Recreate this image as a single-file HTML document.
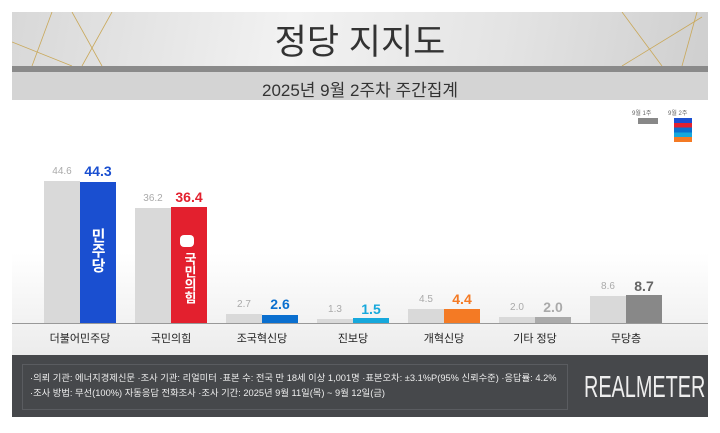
<!DOCTYPE html>
<html><head><meta charset="utf-8"><style>
body{margin:0;width:720px;height:433px;background:#fff;position:relative;overflow:hidden;font-family:"Liberation Sans","Noto Sans CJK KR",sans-serif}
.a{position:absolute}
.g{position:absolute;background:#d9d9d9;width:36px}
.c{position:absolute;width:36px}
.v{position:absolute;width:36px;text-align:center;font-size:10px;color:#aaa}
.w{position:absolute;width:40px;text-align:center;font-size:14px;font-weight:bold}
.l{position:absolute;width:100px;text-align:center;font-size:11px;color:#222;top:330px}
</style></head><body>
<div class="a" style="left:12px;top:12px;width:696px;height:54px;background:linear-gradient(100deg,#d8d8d8,#f2f2f2 40%,#e4e4e4 70%,#cfcfcf)"></div>
<svg class="a" style="left:12px;top:12px" width="696" height="54"><g stroke="#c9a85a" stroke-width="0.8" fill="none"><line x1="40" y1="0" x2="20" y2="54"/><line x1="60" y1="0" x2="90" y2="54"/><line x1="0" y1="30" x2="60" y2="54"/><line x1="100" y1="0" x2="70" y2="54"/><line x1="610" y1="0" x2="650" y2="54"/><line x1="685" y1="0" x2="670" y2="54"/><line x1="690" y1="5" x2="610" y2="54"/></g></svg>
<div class="a" style="left:0;width:720px;top:14px;text-align:center;font-size:35px;color:#333">정당 지지도</div>
<div class="a" style="left:12px;top:66px;width:696px;height:6px;background:#8a8a8a"></div>
<div class="a" style="left:12px;top:72px;width:696px;height:28px;background:#d4d4d4"></div>
<div class="a" style="left:0;width:720px;top:76px;text-align:center;font-size:17px;color:#333">2025년 9월 2주차 주간집계</div>
<div class="a" style="left:12px;top:100px;width:696px;height:255px;background:linear-gradient(#fff 60%,#ececec)"></div>
<div class="a" style="left:632px;top:108px;font-size:6px;color:#666">9월 1주</div>
<div class="a" style="left:668px;top:108px;font-size:6px;color:#666">9월 2주</div>
<div class="a" style="left:638px;top:118px;width:20px;height:6px;background:#888"></div>
<div class="a" style="left:674px;top:118px;width:18px;height:24px;background:linear-gradient(#1a4fd0 0 20%,#e3202e 20% 40%,#0a6fcf 40% 60%,#16a8dc 60% 80%,#f47a24 80%)"></div>
<div class="a" style="left:12px;top:323px;width:696px;height:1px;background:#999"></div>

<div class="g" style="left:44px;top:181px;height:142px"></div><div class="c" style="left:80px;top:182px;height:141px;background:#1a4fd0"></div>
<div class="v" style="left:44px;top:166px">44.6</div><div class="w" style="left:78px;top:163px;color:#1a4fd0">44.3</div>
<div class="a" style="left:88px;top:228px;width:20px;color:#fff;font-weight:bold;font-size:15px;writing-mode:vertical-rl">민주당</div>
<div class="l" style="left:30px">더불어민주당</div>

<div class="g" style="left:135px;top:208px;height:115px"></div><div class="c" style="left:171px;top:207px;height:116px;background:#e3202e"></div>
<div class="v" style="left:135px;top:193px">36.2</div><div class="w" style="left:169px;top:189px;color:#e3202e">36.4</div>
<div class="a" style="left:180px;top:235px;width:14px;height:12px;background:#fff;border-radius:4px"></div>
<div class="a" style="left:179px;top:252px;width:20px;color:#fff;font-weight:bold;font-size:13px;writing-mode:vertical-rl">국민의힘</div>
<div class="l" style="left:121px">국민의힘</div>

<div class="g" style="left:226px;top:314px;height:9px"></div><div class="c" style="left:262px;top:315px;height:8px;background:#0a6fcf"></div>
<div class="v" style="left:226px;top:299px">2.7</div><div class="w" style="left:260px;top:296px;color:#0a6fcf">2.6</div>
<div class="l" style="left:212px">조국혁신당</div>

<div class="g" style="left:317px;top:319px;height:4px"></div><div class="c" style="left:353px;top:318px;height:5px;background:#16a8dc"></div>
<div class="v" style="left:317px;top:304px">1.3</div><div class="w" style="left:351px;top:301px;color:#16a8dc">1.5</div>
<div class="l" style="left:303px">진보당</div>

<div class="g" style="left:408px;top:309px;height:14px"></div><div class="c" style="left:444px;top:309px;height:14px;background:#f47a24"></div>
<div class="v" style="left:408px;top:294px">4.5</div><div class="w" style="left:442px;top:291px;color:#f47a24">4.4</div>
<div class="l" style="left:394px">개혁신당</div>

<div class="g" style="left:499px;top:317px;height:6px"></div><div class="c" style="left:535px;top:317px;height:6px;background:#aaa"></div>
<div class="v" style="left:499px;top:302px">2.0</div><div class="w" style="left:533px;top:299px;color:#aaa">2.0</div>
<div class="l" style="left:485px">기타 정당</div>

<div class="g" style="left:590px;top:296px;height:27px"></div><div class="c" style="left:626px;top:295px;height:28px;background:#888"></div>
<div class="v" style="left:590px;top:281px">8.6</div><div class="w" style="left:624px;top:278px;color:#666">8.7</div>
<div class="l" style="left:576px">무당층</div>

<div class="a" style="left:12px;top:355px;width:696px;height:62px;background:#46484b"></div>
<div class="a" style="left:22px;top:364px;width:544px;height:44px;border:1px solid #5a5c60"></div>
<div class="a" style="left:30px;top:371px;font-size:9.3px;color:#eee;white-space:nowrap;line-height:15px">·의뢰 기관: 에너지경제신문 ·조사 기관: 리얼미터 ·표본 수: 전국 만 18세 이상 1,001명 ·표본오차: ±3.1%P(95% 신뢰수준) ·응답률: 4.2%<br>·조사 방법: 무선(100%) 자동응답 전화조사 ·조사 기간: 2025년 9월 11일(목) ~ 9월 12일(금)</div>
<div class="a" style="left:584px;top:369px;font-size:31px;color:#eee;transform:scaleX(0.64);transform-origin:left;white-space:nowrap">REALMETER</div>
</body></html>
